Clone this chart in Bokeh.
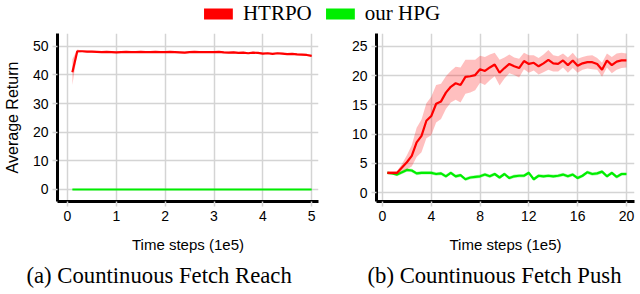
from bokeh.plotting import figure
from bokeh.layouts import column, row
from bokeh.models import Legend, LegendItem, Title, FixedTicker, Range1d
from bokeh.embed import file_html
from bokeh.resources import INLINE

SERIES = ["HTRPO", "our HPG"]
COLORS = ["#ff0000", "#00ee00"]

# ---- (a) Countinuous Fetch Reach ----
reach_x = [0.1, 0.2, 0.3, 0.4, 0.5, 0.6, 0.7, 0.8, 0.9, 1.0,
           1.1, 1.2, 1.3, 1.4, 1.5, 1.6, 1.7, 1.8, 1.9, 2.0,
           2.1, 2.2, 2.3, 2.4, 2.5, 2.6, 2.7, 2.8, 2.9, 3.0,
           3.1, 3.2, 3.3, 3.4, 3.5, 3.6, 3.7, 3.8, 3.9, 4.0,
           4.1, 4.2, 4.3, 4.4, 4.5, 4.6, 4.7, 4.8, 4.9, 5.0]
reach_htrpo = [41.0, 48.3, 48.3, 48.2, 48.2, 48.1, 48.0, 48.1, 48.0, 47.9,
               48.0, 48.1, 48.0, 48.0, 48.1, 48.0, 48.0, 48.1, 48.0, 48.0,
               48.1, 48.0, 47.9, 47.8, 48.0, 48.1, 48.0, 48.0, 48.0, 48.0,
               48.1, 47.9, 47.8, 47.9, 47.7, 47.8, 47.6, 47.8, 47.7, 47.5,
               47.6, 47.4, 47.6, 47.5, 47.3, 47.4, 47.2, 47.1, 47.0, 46.7]
reach_htrpo_sd = [4.5, 0.6, 0.3, 0.3, 0.3, 0.3, 0.3, 0.3, 0.3, 0.3,
                  0.3, 0.3, 0.3, 0.3, 0.3, 0.3, 0.3, 0.3, 0.3, 0.3,
                  0.3, 0.3, 0.3, 0.3, 0.3, 0.3, 0.3, 0.3, 0.3, 0.3,
                  0.3, 0.3, 0.3, 0.3, 0.3, 0.3, 0.3, 0.3, 0.3, 0.3,
                  0.3, 0.3, 0.3, 0.3, 0.3, 0.3, 0.3, 0.3, 0.3, 0.3]
reach_hpg = [0.0, 0.0, 0.0, 0.0, 0.0, 0.0, 0.0, 0.0, 0.0, 0.0,
             0.0, 0.0, 0.0, 0.0, 0.0, 0.0, 0.0, 0.0, 0.0, 0.0,
             0.0, 0.0, 0.0, 0.0, 0.0, 0.0, 0.0, 0.0, 0.0, 0.0,
             0.0, 0.0, 0.0, 0.0, 0.0, 0.0, 0.0, 0.0, 0.0, 0.0,
             0.0, 0.0, 0.0, 0.0, 0.0, 0.0, 0.0, 0.0, 0.0, 0.0]
reach_hpg_sd = [0.1, 0.1, 0.1, 0.1, 0.1, 0.1, 0.1, 0.1, 0.1, 0.1,
                0.1, 0.1, 0.1, 0.1, 0.1, 0.1, 0.1, 0.1, 0.1, 0.1,
                0.1, 0.1, 0.1, 0.1, 0.1, 0.1, 0.1, 0.1, 0.1, 0.1,
                0.1, 0.1, 0.1, 0.1, 0.1, 0.1, 0.1, 0.1, 0.1, 0.1,
                0.1, 0.1, 0.1, 0.1, 0.1, 0.1, 0.1, 0.1, 0.1, 0.1]
reach_xticks = [0, 1, 2, 3, 4, 5]
reach_yticks = [0, 10, 20, 30, 40, 50]

# ---- (b) Countinuous Fetch Push ----
push_x = [0.4, 0.8, 1.2, 1.6, 2.0, 2.4, 2.8, 3.2, 3.6, 4.0,
          4.4, 4.8, 5.2, 5.6, 6.0, 6.4, 6.8, 7.2, 7.6, 8.0,
          8.4, 8.8, 9.2, 9.6, 10.0, 10.4, 10.8, 11.2, 11.6, 12.0,
          12.4, 12.8, 13.2, 13.6, 14.0, 14.4, 14.8, 15.2, 15.6, 16.0,
          16.4, 16.8, 17.2, 17.6, 18.0, 18.4, 18.8, 19.2, 19.6, 20.0]
push_htrpo = [3.4, 3.4, 3.4, 4.3, 5.2, 6.3, 8.6, 9.7, 12.3, 13.1,
              15.2, 15.6, 17.1, 18.1, 18.7, 18.4, 19.8, 19.9, 20.1, 21.1,
              20.8, 21.4, 21.9, 20.5, 21.3, 22.0, 21.6, 21.3, 22.5, 22.0,
              22.2, 21.6, 22.1, 22.7, 22.1, 22.0, 22.6, 21.8, 22.6, 21.7,
              22.1, 22.3, 22.3, 22.0, 21.0, 22.6, 21.8, 22.4, 22.6, 22.6]
push_htrpo_sd = [0.3, 0.3, 0.3, 0.6, 1.2, 1.8, 2.5, 2.8, 3.0, 3.3,
                 3.2, 3.0, 2.8, 2.7, 2.8, 3.0, 2.9, 2.8, 2.6, 2.3,
                 2.4, 2.2, 2.0, 2.2, 1.8, 1.6, 1.5, 1.6, 1.4, 1.5,
                 1.3, 1.4, 1.5, 1.7, 1.4, 1.3, 1.2, 1.3, 1.3, 1.2,
                 1.1, 1.1, 1.2, 1.0, 1.2, 1.2, 1.4, 1.4, 1.3, 1.2]
push_hpg = [3.4, 3.3, 3.1, 3.5, 3.9, 3.8, 3.3, 3.4, 3.4, 3.4,
            3.2, 3.3, 2.8, 3.4, 2.8, 3.0, 2.3, 2.6, 2.7, 2.8,
            3.1, 2.8, 3.2, 2.6, 3.2, 2.5, 2.8, 2.9, 2.9, 3.4,
            2.3, 2.9, 2.8, 2.9, 2.8, 2.9, 3.1, 2.8, 3.1, 2.5,
            2.9, 3.5, 3.2, 3.3, 3.6, 2.8, 3.4, 2.7, 3.2, 3.2]
push_hpg_sd = [0.2, 0.2, 0.3, 0.3, 0.3, 0.3, 0.3, 0.3, 0.3, 0.3,
               0.3, 0.3, 0.3, 0.3, 0.3, 0.3, 0.3, 0.3, 0.3, 0.3,
               0.3, 0.3, 0.3, 0.3, 0.3, 0.3, 0.3, 0.3, 0.3, 0.3,
               0.3, 0.3, 0.3, 0.3, 0.3, 0.3, 0.3, 0.3, 0.3, 0.3,
               0.3, 0.3, 0.3, 0.3, 0.3, 0.3, 0.3, 0.3, 0.3, 0.3]
push_xticks = [0, 4, 8, 12, 16, 20]
push_yticks = [0, 5, 10, 15, 20, 25]

XLABEL = "Time steps (1e5)"
YLABEL = "Average Return"
CAPTIONS = ["(a) Countinuous Fetch Reach", "(b) Countinuous Fetch Push"]

SANS = "Liberation Sans"
SERIF = "Liberation Serif"
GRID = "#d4d4d4"


def band(mean, sd):
    lo = [m - s for m, s in zip(mean, sd)]
    hi = [m + s for m, s in zip(mean, sd)]
    return lo, hi


def make_plot(frame_w, xr, yr, xticks, yticks, border_left, border_right, ylabel, caption,
              cap_offset, x, red, red_sd, green, green_sd):
    p = figure(frame_width=frame_w, frame_height=168,
               x_range=Range1d(*xr), y_range=Range1d(*yr),
               output_backend="svg", toolbar_location=None,
               min_border_left=border_left, min_border_right=border_right,
               min_border_top=7, min_border_bottom=0)
    p.outline_line_color = None
    p.background_fill_color = "white"
    p.grid.grid_line_color = GRID
    p.grid.grid_line_width = 1.5
    p.xaxis.ticker = FixedTicker(ticks=xticks)
    p.yaxis.ticker = FixedTicker(ticks=yticks)
    for ax in (p.xaxis, p.yaxis):
        ax.axis_line_color = "black"
        ax.axis_line_width = 3
        ax.major_tick_line_color = GRID
        ax.major_tick_line_width = 1.5
        ax.major_tick_in = 0
        ax.major_tick_out = 5
        ax.minor_tick_line_color = None
        ax.major_label_text_font = SANS
        ax.major_label_text_font_size = "14px"
        ax.major_label_text_color = "black"
        ax.major_label_standoff = 4
        ax.axis_label_text_font = SANS
        ax.axis_label_text_font_style = "normal"
        ax.axis_label_text_color = "black"
    p.xaxis.axis_label = XLABEL
    p.xaxis.axis_label_text_font_size = "15px"
    p.xaxis.axis_label_standoff = 12
    if ylabel:
        p.yaxis.axis_label = ylabel
        p.yaxis.axis_label_text_font_size = "16px"
        p.yaxis.axis_label_standoff = 9

    glo, ghi = band(green, green_sd)
    p.varea(x=x, y1=glo, y2=ghi, fill_color=COLORS[1], fill_alpha=0.3)
    p.line(x=x, y=green, line_color=COLORS[1], line_width=2.2)
    rlo, rhi = band(red, red_sd)
    p.varea(x=x, y1=rlo, y2=rhi, fill_color=COLORS[0], fill_alpha=0.25)
    p.line(x=x, y=red, line_color=COLORS[0], line_width=2.2)

    t = Title(text=caption, align="left", text_font=SERIF, text_font_size="22.7px",
              text_font_style="normal", text_color="black", offset=cap_offset, standoff=11)
    p.add_layout(t, "below")
    return p


p1 = make_plot(261, (-0.205, 5.14), (-4.2, 54.5), reach_xticks, reach_yticks, 57, 2, YLABEL,
               CAPTIONS[0], -31, reach_x, reach_htrpo, reach_htrpo_sd, reach_hpg, reach_hpg_sd)
p2 = make_plot(258, (-0.49, 20.66), (-1.5, 27.2), push_xticks, push_yticks, 56, 6, None,
               CAPTIONS[1], -9, push_x, push_htrpo, push_htrpo_sd, push_hpg, push_hpg_sd)

leg = figure(width=640, height=26, output_backend="svg", toolbar_location=None,
             x_range=Range1d(0, 1), y_range=Range1d(0, 1), min_border=0,
             x_axis_location=None, y_axis_location=None)
leg.grid.visible = False
leg.outline_line_color = None
# legend-only renderers, kept outside the visible range
r1 = leg.quad(left=[0], right=[1], top=[-2], bottom=[-3], fill_color=COLORS[0], line_color=None)
r2 = leg.quad(left=[0], right=[1], top=[-2], bottom=[-3], fill_color=COLORS[1], line_color=None)
legend = Legend(items=[LegendItem(label=SERIES[0], renderers=[r1]),
                       LegendItem(label=SERIES[1], renderers=[r2])],
                orientation="horizontal", location="center",
                glyph_width=36, glyph_height=14, label_standoff=7, spacing=10,
                padding=0, margin=0, border_line_color=None, background_fill_alpha=0,
                label_text_font=SERIF, label_text_font_size="21px",
                label_text_color="black", label_height=14)
leg.add_layout(legend, "center")

layout = column(leg, row(p1, p2))
open("out.html", "w").write(file_html(layout, INLINE))
